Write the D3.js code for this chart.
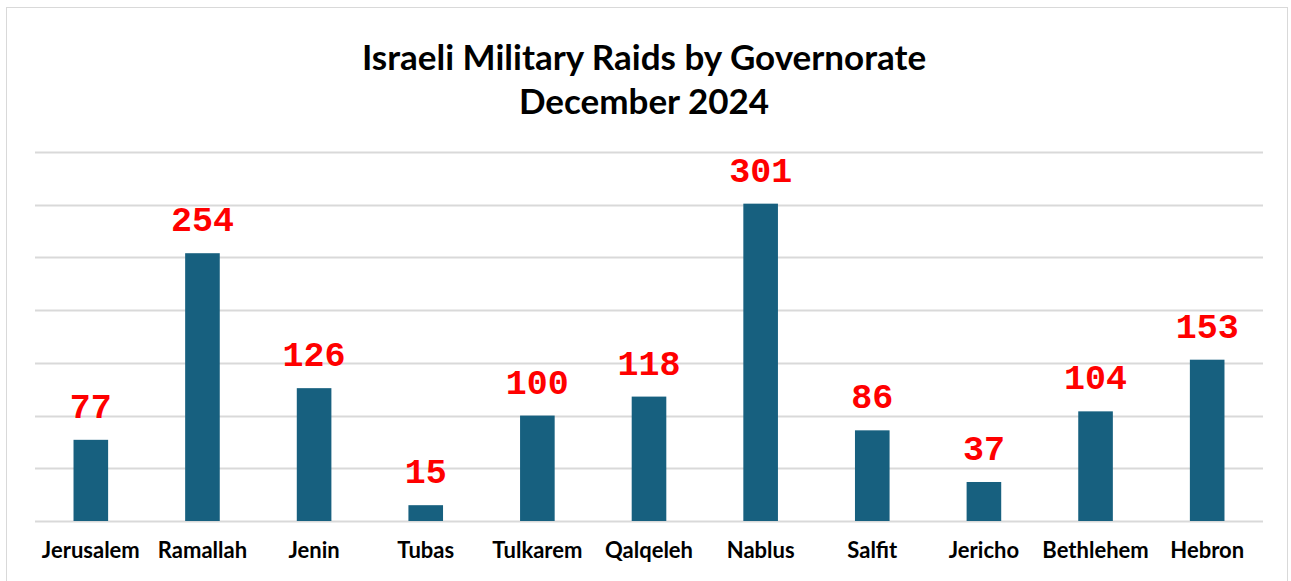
<!DOCTYPE html>
<html><head><meta charset="utf-8">
<script src="https://cdn.jsdelivr.net/npm/d3@7"></script>
<style>body{margin:0;background:#fff}svg{display:block}</style>
</head><body>
<script>
const categories = ["Jerusalem","Ramallah","Jenin","Tubas","Tulkarem","Qalqeleh","Nablus","Salfit","Jericho","Bethlehem","Hebron"];
const values = [77,254,126,15,100,118,301,86,37,104,153];
const titleLines = ["Israeli Military Raids by Governorate","December 2024"];
const gridTicks = [0,50,100,150,200,250,300,350];

const W=1291,H=581;
const svg=d3.select("body").append("svg").attr("width",W).attr("height",H);
svg.append("rect").attr("x",6.5).attr("y",7.5).attr("width",1281).attr("height",580).attr("fill","#fff").attr("stroke","#d9d9d9").attr("stroke-width",1);

const x=d3.scaleBand().domain(categories).range([35,1263]).paddingInner(0.69).paddingOuter(0.345);
const y=d3.scaleLinear().domain([0,350]).range([521,152]);

svg.append("g").selectAll("line").data(gridTicks).join("line")
 .attr("x1",35).attr("x2",1263).attr("y1",d=>Math.round(y(d))+0.5).attr("y2",d=>Math.round(y(d))+0.5)
 .attr("stroke","#d9d9d9").attr("stroke-width",2);

svg.append("g").selectAll("rect").data(values).join("rect")
 .attr("x",(d,i)=>x(categories[i])).attr("width",x.bandwidth())
 .attr("y",d=>y(d)).attr("height",d=>y(0)-y(d)).attr("fill","#17607f");

svg.append("g").selectAll("text").data(values).join("text")
 .attr("x",(d,i)=>x(categories[i])+x.bandwidth()/2).attr("y",d=>y(d)-22)
 .attr("text-anchor","middle").attr("fill","#ff0000")
 .style("font-family","'Liberation Mono','Courier New',monospace").style("font-weight","bold").style("font-size","35px")
 .text(d=>d);

const xa=d3.axisBottom(x).tickSize(0).tickPadding(0);
const g=svg.append("g").attr("transform","translate(0,521)").call(xa);
g.select(".domain").remove();
g.selectAll("text").attr("y",37).attr("dy",0).attr("fill","#000")
 .style("font-family","Lato,'Open Sans',sans-serif").style("font-weight","bold").style("font-size","22px");

svg.append("g").selectAll("text").data(titleLines).join("text")
 .attr("x",644).attr("y",(d,i)=>70+i*44).attr("text-anchor","middle")
 .style("font-family","Lato,'Open Sans',sans-serif").style("font-weight","bold").style("font-size","35px").attr("fill","#000")
 .text(d=>d);
</script>
</body></html>
